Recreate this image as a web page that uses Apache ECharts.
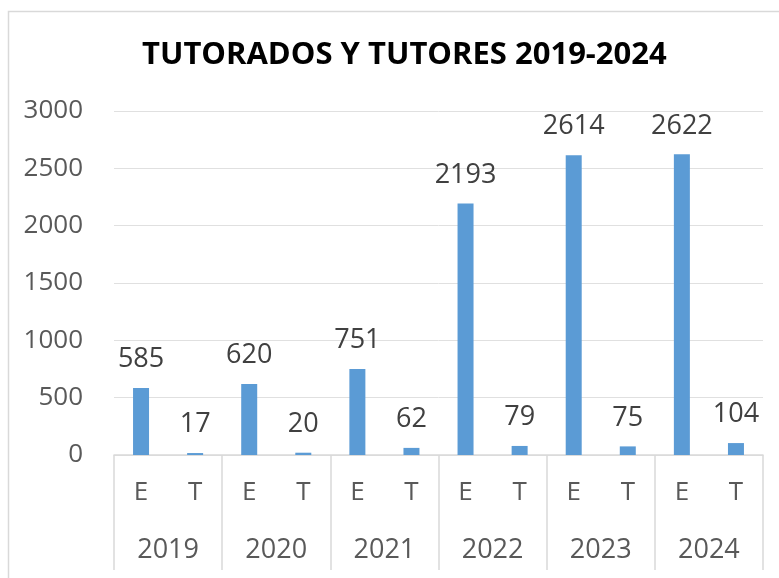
<!DOCTYPE html>
<html>
<head>
<meta charset="utf-8">
<script src="https://cdn.jsdelivr.net/npm/echarts@6/dist/echarts.min.js"></script>
<style>
html,body{margin:0;padding:0;background:#fff;}
#c{width:779px;height:578px;}
</style>
</head>
<body>
<div id="c"></div>
<script>
var titleText = 'TUTORADOS Y TUTORES 2019-2024';
var years = ['2019','2020','2021','2022','2023','2024'];
var kinds = ['E','T'];
var values = [585, 17, 620, 20, 751, 62, 2193, 79, 2614, 75, 2622, 104];
var yTicks = [0, 500, 1000, 1500, 2000, 2500, 3000];

var inner = [];
years.forEach(function(){ kinds.forEach(function(k){ inner.push(k); }); });

var chart = echarts.init(document.getElementById('c'));
var font = '"Open Sans", sans-serif';
chart.setOption({
  animation: false,
  backgroundColor: '#fff',
  graphic: [{
    type: 'rect',
    shape: {x: 8.5, y: 11.5, width: 820, height: 620},
    style: {fill: 'none', stroke: '#d9d9d9', lineWidth: 1.5},
    silent: true
  }],
  title: {
    text: titleText,
    left: 137,
    top: 35,
    textStyle: {fontFamily: font, fontWeight: 'bold', fontSize: 31, color: '#000'}
  },
  grid: {left: 114, right: 16, top: 111, bottom: 123},
  xAxis: [{
    type: 'category',
    data: inner,
    position: 'bottom',
    axisLine: {show: true, lineStyle: {color: '#d9d9d9', width: 1.5}},
    axisTick: {show: false},
    axisLabel: {margin: 25, fontFamily: font, fontSize: 26, color: '#595959'}
  }, {
    type: 'category',
    data: years,
    position: 'bottom',
    axisLine: {show: false},
    axisTick: {show: true, length: 115, lineStyle: {color: '#d9d9d9', width: 1.5}},
    axisLabel: {margin: 82, fontFamily: font, fontSize: 27, color: '#595959'}
  }],
  yAxis: {
    type: 'value',
    min: yTicks[0],
    max: yTicks[yTicks.length - 1],
    interval: 500,
    axisLine: {show: false},
    axisTick: {show: false},
    splitLine: {lineStyle: {color: '#e0e0e0', width: 1}},
    axisLabel: {
      margin: 31, fontFamily: font, fontSize: 26, color: '#595959',
      formatter: function (v) { return String(v); }
    }
  },
  series: [{
    type: 'bar',
    xAxisIndex: 0,
    data: values,
    barWidth: 16,
    itemStyle: {color: '#5b9bd5'},
    label: {
      show: true,
      position: 'top',
      distance: 15,
      fontFamily: font,
      fontSize: 27,
      color: '#404040'
    }
  }]
});
</script>
</body>
</html>
